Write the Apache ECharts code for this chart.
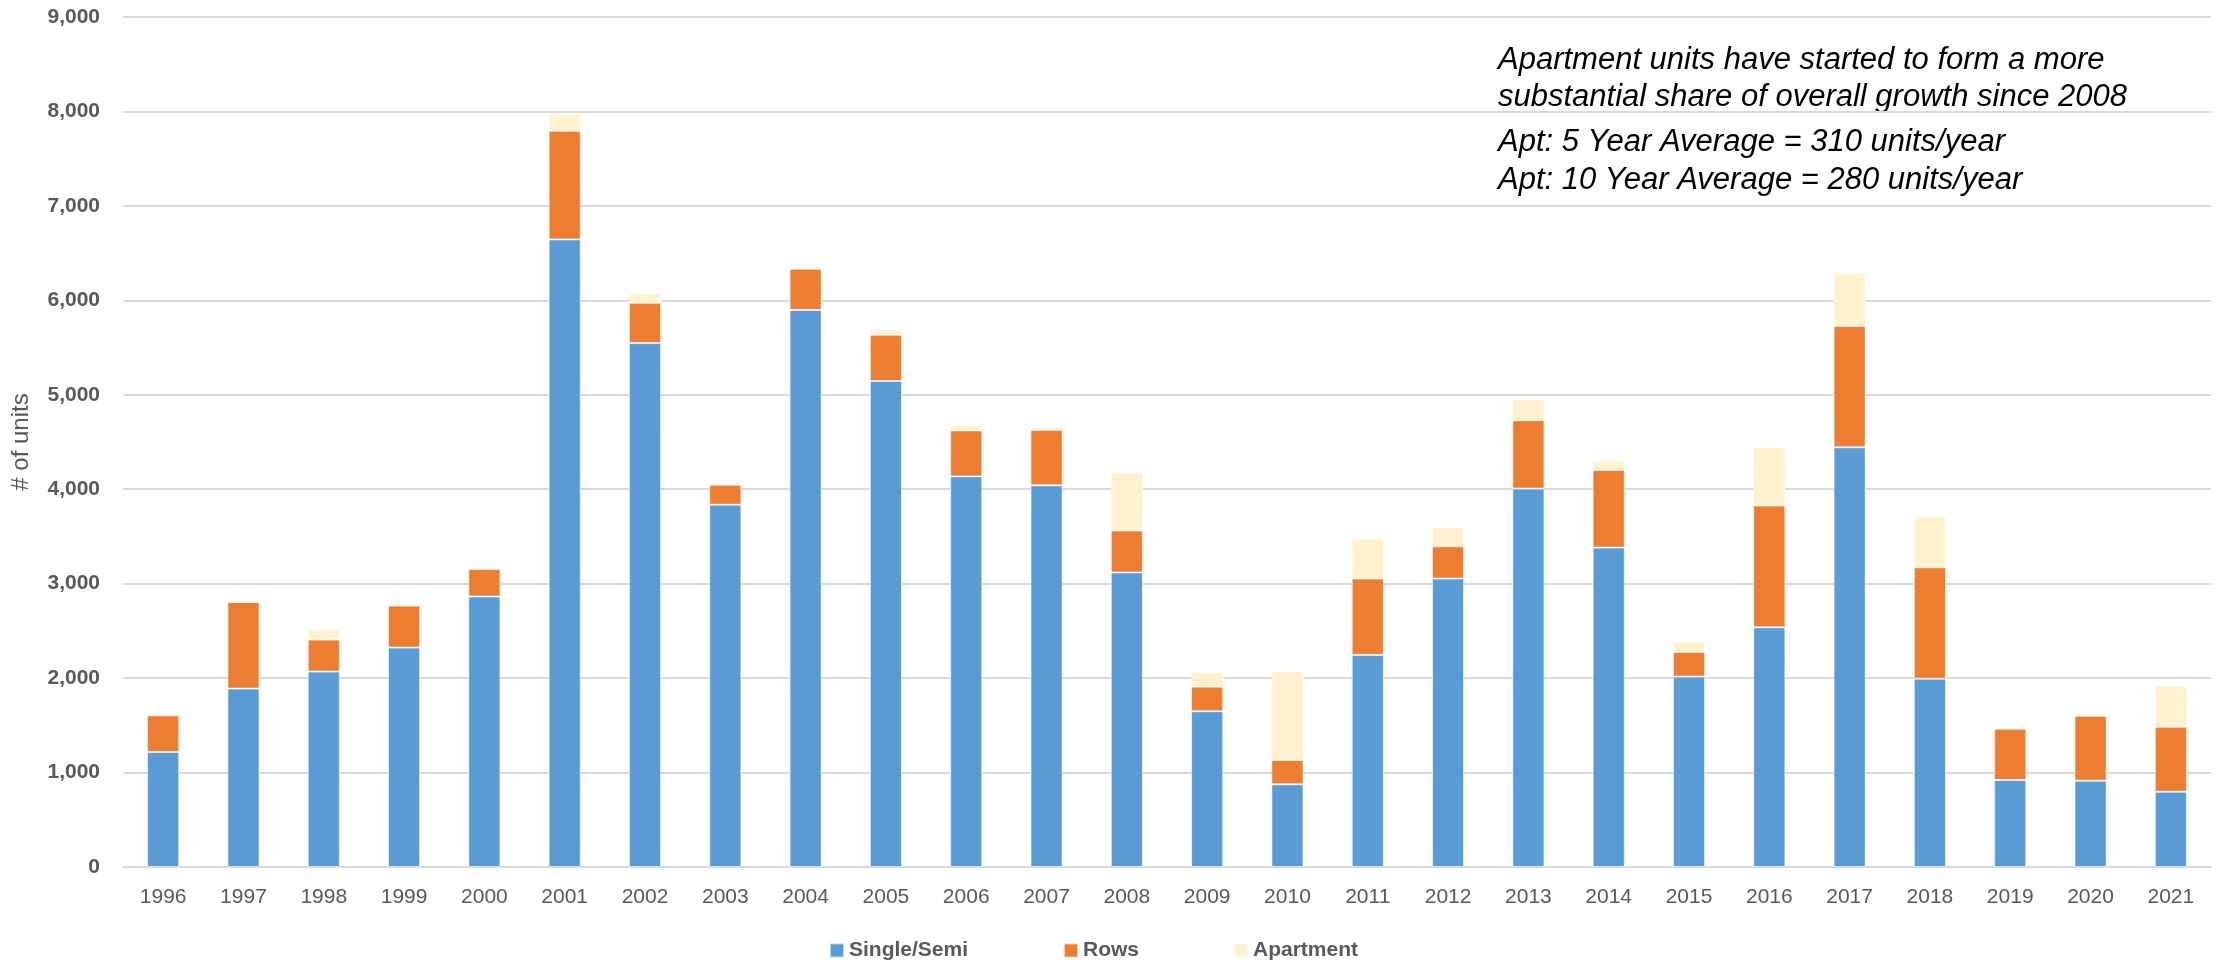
<!DOCTYPE html>
<html>
<head>
<meta charset="utf-8">
<script src="https://cdn.jsdelivr.net/npm/echarts@6/dist/echarts.min.js"></script>
<style>
  html, body { margin: 0; padding: 0; background: #fff; }
  #chart { width: 2216px; height: 960px; }
</style>
</head>
<body>
<div id="chart"></div>
<script>
var years = ['1996','1997','1998','1999','2000','2001','2002','2003','2004','2005','2006','2007','2008',
             '2009','2010','2011','2012','2013','2014','2015','2016','2017','2018','2019','2020','2021'];
var singleSemi = [1218,1889,2069,2323,2864,6645,5547,3836,5898,5146,4136,4041,3118,
                  1649,876,2246,3054,4007,3382,2016,2538,4444,1994,921,914,797];
var rows = [388,917,339,445,293,1150,427,212,437,490,487,589,444,
            261,258,808,342,723,822,261,1289,1285,1179,543,688,688];
var apartment = [0,0,109,0,0,177,99,0,0,53,53,0,614,
                 156,942,424,202,223,96,106,617,558,540,10,0,435];
var yTicks = [0,1000,2000,3000,4000,5000,6000,7000,8000,9000];
var seriesNames = ['Single/Semi', 'Rows', 'Apartment'];
var seriesColors = ['#5B9BD5', '#ED7D31', '#FFF2CC'];

var noteLines = [
    'Apartment units have started to form a more',
    'substantial share of overall growth since 2008',
    'Apt: 5 Year Average = 310 units/year',
    'Apt: 10 Year Average = 280 units/year'
];
var noteTops = [45, 82, 127, 165];
var legendLefts = [824, 1058, 1228];

var myChart = echarts.init(document.getElementById('chart'));
var font = '"Liberation Sans", Arial, sans-serif';
var grey = '#595959';

// 注释文字
var noteEls = [];
for (var i = 0; i < noteLines.length; i++) {
    noteEls.push({
        type: 'text',
        left: 1498,
        top: noteTops[i],
        style: {
            text: noteLines[i],
            fill: '#000',
            font: 'italic 31px ' + font
        }
    });
}

// 每个图例单独放置（Excel式的固定列宽）
var legends = [];
for (var j = 0; j < seriesNames.length; j++) {
    legends.push({
        left: legendLefts[j],
        top: 935,
        itemWidth: 14,
        itemHeight: 14,
        icon: 'rect',
        selectedMode: false,
        textStyle: { color: grey, fontSize: 21, fontWeight: 'bold', fontFamily: font },
        data: [seriesNames[j]]
    });
}

function barSeries(idx, data) {
    return {
        name: seriesNames[idx],
        type: 'bar',
        stack: 'total',
        barWidth: '40%',
        data: data,
        itemStyle: { color: seriesColors[idx], borderColor: 'rgba(255,255,255,0.6)', borderWidth: 1 },
        emphasis: { disabled: true }
    };
}

myChart.setOption({
    animation: false,
    textStyle: { fontFamily: font },
    grid: { left: 123, right: 5, top: 17, bottom: 93, containLabel: false },
    legend: legends,
    xAxis: {
        type: 'category',
        data: years,
        axisLine: { lineStyle: { color: '#D9D9D9', width: 2 } },
        axisTick: { show: false },
        axisLabel: { color: grey, fontSize: 21, margin: 20, fontFamily: font }
    },
    yAxis: {
        type: 'value',
        min: yTicks[0],
        max: yTicks[yTicks.length - 1],
        interval: 1000,
        name: '# of units',
        nameLocation: 'middle',
        nameGap: 90,
        nameTextStyle: { color: grey, fontSize: 24, fontFamily: font },
        axisLine: { show: false },
        axisTick: { show: false },
        splitLine: { lineStyle: { color: '#D9D9D9', width: 2 } },
        axisLabel: {
            color: grey,
            fontSize: 21,
            fontWeight: 'bold',
            margin: 23,
            fontFamily: font,
            formatter: function (v) { return v.toLocaleString('en-US'); }
        }
    },
    graphic: noteEls,
    series: [
        barSeries(0, singleSemi),
        barSeries(1, rows),
        barSeries(2, apartment)
    ]
});
</script>
</body>
</html>
